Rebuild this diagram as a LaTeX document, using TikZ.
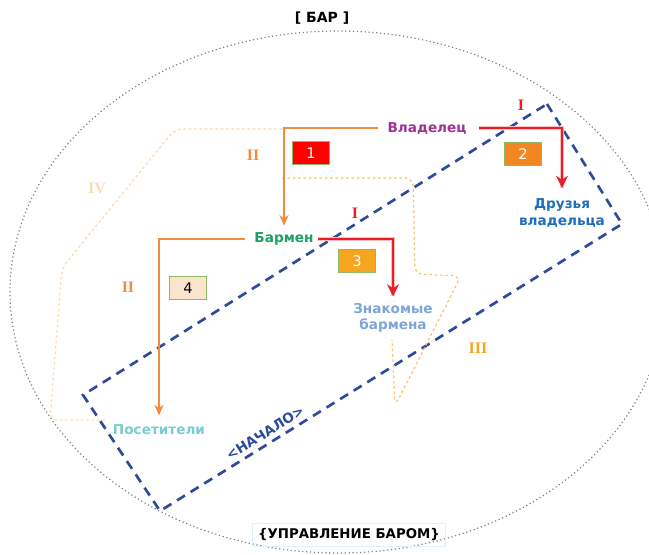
\documentclass[tikz,border=0pt]{standalone}
\usepackage{fontspec}
\setmainfont{DejaVu Sans}
\newfontfamily\romanfont{Liberation Serif}
\usetikzlibrary{arrows.meta}
\definecolor{ownercol}{RGB}{160,50,150}
\definecolor{friendcol}{RGB}{30,110,190}
\definecolor{barmancol}{RGB}{30,160,100}
\definecolor{knowncol}{RGB}{125,165,215}
\definecolor{guestcol}{RGB}{120,205,210}
\definecolor{myorange}{RGB}{242,140,60}
\definecolor{myred}{RGB}{235,30,40}
\definecolor{mylightred}{RGB}{250,190,190}
\definecolor{boxgreen}{RGB}{140,185,100}
\definecolor{boxorange}{RGB}{240,135,35}
\definecolor{boxamber}{RGB}{245,165,30}
\definecolor{boxpeach}{RGB}{252,228,205}
\definecolor{pathamber}{RGB}{250,195,100}
\definecolor{pathpeach}{RGB}{252,218,175}
\definecolor{startblue}{RGB}{45,75,155}
\definecolor{footcyan}{RGB}{215,245,250}
\newcommand{\widthnum}{27.75pt}
\newcommand{\heightnum}{17.5pt}
\tikzset{
    common/.style={align=center, inner sep=1pt, font=\bfseries\fontsize{10.2}{12.5}\selectfont},
    role/.style={common},
    numbox/.style={draw=boxgreen, line width=0.8pt, minimum width=\widthnum, minimum height=\heightnum, inner sep=0pt, font=\fontsize{11}{12}\selectfont},
    numeral/.style={inner sep=0pt, font=\romanfont\bfseries\fontsize{12}{12}\selectfont},
    lower/.style={myorange, line width=1pt, -{Stealth[length=8pt, width=7pt]}},
    peer/.style={myred, line width=1.8pt, -{Stealth[length=9pt, width=9pt]},
        preaction={draw=mylightred, line width=3.5pt, -}},
    route/.style={dash pattern=on 2pt off 2pt, line width=0.9pt, rounded corners=6pt}
}
\begin{document}
\begin{tikzpicture}[x=0.75pt, y=-0.75pt]
    \useasboundingbox (0,0) rectangle (649,555);

    % bar circle
    \draw[gray, dotted, line width=0.9pt] (338,292) ellipse (328 and 261);
    \node[common, font=\bfseries\fontsize{10.5}{12}\selectfont] (bar) at (322,18) {[ БАР ]};
    \node[common, draw=footcyan, line width=0.8pt, inner xsep=4pt, inner ysep=4pt, font=\bfseries\fontsize{10}{12}\selectfont] (manage) at (349,535) {\{УПРАВЛЕНИЕ БАРОМ\}};

    % start zone
    \draw[startblue, line width=2pt, dash pattern=on 7pt off 5pt]
        (547,104) -- (622,224) -- (160,511) -- (83,395) -- cycle;
    \node[common, startblue, rotate=32] (start) at (265,433) {<НАЧАЛО>};

    % roles
    \node[role, ownercol] (owner) at (427,128) {Владелец};
    \node[role, friendcol] (friends) at (562,213) {Друзья\\владельца};
    \node[role, barmancol] (barman) at (284,239) {Бармен};
    \node[role, knowncol] (known) at (393,318) {Знакомые\\бармена};
    \node[role, guestcol] (guests) at (159,430) {Посетители};

    % routes III and IV
    \coordinate (corner) at (282,129);
    \coordinate (branch) at (282,178);
    \draw[route, pathpeach] (corner) -- (175,129) -- (62,268) -- (50,420) -- (106,420);
    \draw[route, pathamber] (branch) -- (413,178) -- (415,274) -- (461,276) -- (395,406) -- (392,340);

    % links
    \draw[lower, shorten <=6pt] (owner.west) -| ([yshift=4pt]barman.north);
    \draw[lower, shorten <=6pt] (barman.west) -| ([yshift=6pt]guests.north);
    \draw[peer, shorten <=8pt, shorten >=7pt] (owner.east) -| (friends.north);
    \draw[peer, shorten <=2pt, shorten >=4pt] (barman.east) -| (known.north);

    % numbers
    \node[numbox, fill=red, text=white] (n1) at (311,153) {1};
    \node[numbox, fill=boxorange, text=white] (n2) at (523,154) {2};
    \node[numbox, fill=boxamber, text=white] (n3) at (357,261) {3};
    \node[numbox, fill=boxpeach] (n4) at (188,288) {4};

    \node[numeral, myred] (i1) at (521,105) {I};
    \node[numeral, myred] (i2) at (355,213) {I};
    \node[numeral, myorange] (ii1) at (253,155) {II};
    \node[numeral, myorange] (ii2) at (128,287) {II};
    \node[numeral, boxamber] (iii) at (478,348) {III};
    \node[numeral, pathpeach] (iv) at (97,188) {IV};
\end{tikzpicture}
\end{document}
